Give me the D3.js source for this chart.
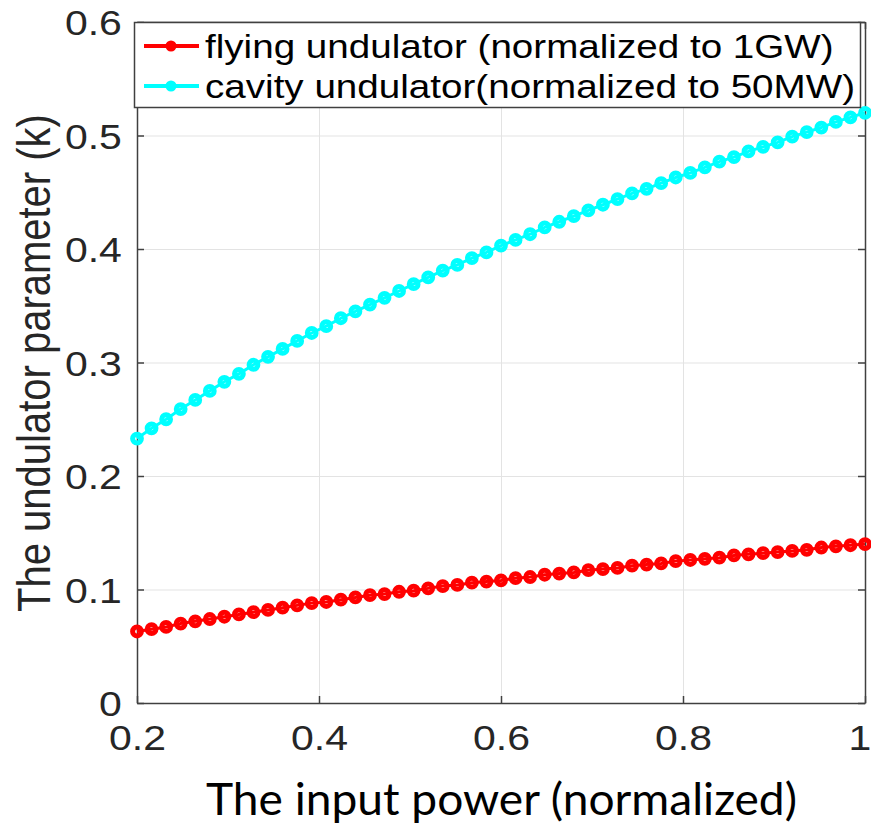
<!DOCTYPE html>
<html>
<head>
    <meta charset="utf-8">
    <title>Undulator parameter vs input power</title>
    <script src="https://d3js.org/d3.v7.min.js"></script>
    <style>
        body { margin: 0; background: #fff; }
        svg { display: block; }
    </style>
</head>
<body>
<svg id="chart" width="871" height="828"></svg>

<script>
    // input power (normalized), 51 samples
    var power = [0.2, 0.216, 0.232, 0.248, 0.264, 0.28, 0.296, 0.312, 0.328, 0.344,
        0.36, 0.376, 0.392, 0.408, 0.424, 0.44, 0.456, 0.472, 0.488, 0.504,
        0.52, 0.536, 0.552, 0.568, 0.584, 0.6, 0.616, 0.632, 0.648, 0.664,
        0.68, 0.696, 0.712, 0.728, 0.744, 0.76, 0.776, 0.792, 0.808, 0.824,
        0.84, 0.856, 0.872, 0.888, 0.904, 0.92, 0.936, 0.952, 0.968, 0.984, 1.0];

    var flyingK = [0.063, 0.065, 0.067, 0.070, 0.072, 0.074, 0.076, 0.078, 0.080, 0.082,
        0.084, 0.086, 0.088, 0.089, 0.091, 0.093, 0.095, 0.096, 0.098, 0.099,
        0.101, 0.103, 0.104, 0.106, 0.107, 0.108, 0.110, 0.111, 0.113, 0.114,
        0.115, 0.117, 0.118, 0.119, 0.121, 0.122, 0.123, 0.125, 0.126, 0.127,
        0.128, 0.130, 0.131, 0.132, 0.133, 0.134, 0.135, 0.137, 0.138, 0.139, 0.140];

    var cavityK = [0.233, 0.242, 0.250, 0.259, 0.267, 0.275, 0.283, 0.290, 0.298, 0.305,
        0.312, 0.319, 0.326, 0.332, 0.339, 0.345, 0.351, 0.357, 0.363, 0.369,
        0.375, 0.381, 0.386, 0.392, 0.397, 0.403, 0.408, 0.413, 0.419, 0.424,
        0.429, 0.434, 0.439, 0.444, 0.449, 0.453, 0.458, 0.463, 0.467, 0.472,
        0.477, 0.481, 0.486, 0.490, 0.494, 0.499, 0.503, 0.507, 0.512, 0.516, 0.520];

    var seriesNames = ["flying undulator (normalized to 1GW)", "cavity undulator(normalized to 50MW)"];
    var seriesColors = ["#ff0000", "#00ffff"];

    var xTicks = [0.2, 0.4, 0.6, 0.8, 1];
    var xTickLabels = ["0.2", "0.4", "0.6", "0.8", "1"];
    var yTicks = [0, 0.1, 0.2, 0.3, 0.4, 0.5, 0.6];
    var yTickLabels = ["0", "0.1", "0.2", "0.3", "0.4", "0.5", "0.6"];

    var svg = d3.select("#chart");
    var plotLeft = 137, plotRight = 865, plotTop = 22, plotBottom = 703;
    var stretch = 1.17;   // the original image is widened a bit
    var axisColor = "#404040";
    var tickFont = "'Liberation Sans', Arial, Helvetica, sans-serif";

    var x = d3.scaleLinear().domain([0.2, 1]).range([plotLeft, plotRight]);
    var y = d3.scaleLinear().domain([0, 0.6]).range([plotBottom, plotTop]);

    // grid
    svg.append("g")
        .attr("transform", "translate(0," + plotBottom + ")")
        .call(d3.axisBottom(x).tickValues(xTicks).tickSize(-(plotBottom - plotTop)).tickFormat(""))
        .call(function(g) {
            g.select(".domain").remove();
            g.selectAll("line").attr("stroke", "#e3e3e3").attr("stroke-width", 1);
        });
    svg.append("g")
        .attr("transform", "translate(" + plotLeft + ",0)")
        .call(d3.axisLeft(y).tickValues(yTicks).tickSize(-(plotRight - plotLeft)).tickFormat(""))
        .call(function(g) {
            g.select(".domain").remove();
            g.selectAll("line").attr("stroke", "#e3e3e3").attr("stroke-width", 1);
        });

    // axes with inward ticks
    function styleAxis(g) {
        g.select(".domain").attr("stroke", axisColor).attr("stroke-width", 1.5);
        g.selectAll(".tick line").attr("stroke", axisColor).attr("stroke-width", 1.5);
        g.selectAll("text")
            .attr("fill", "#262626")
            .style("font-family", tickFont)
            .style("font-size", "35px");
    }

    svg.append("g")
        .attr("transform", "translate(0," + plotBottom + ")")
        .call(d3.axisBottom(x).tickValues(xTicks).tickSizeInner(-7).tickSizeOuter(0)
            .tickPadding(0).tickFormat(function(d, i) { return xTickLabels[i]; }))
        .call(styleAxis)
        .call(function(g) {
            g.selectAll("text").attr("y", 47).attr("dy", null)
                .attr("transform", "scale(" + stretch + ",1)");
            // last label sits against the right edge, as in the original
            g.selectAll("text").filter(function(d) { return d === 1; })
                .attr("text-anchor", "end").attr("x", 5);
        });

    svg.append("g")
        .attr("transform", "translate(" + plotLeft + ",0)")
        .call(d3.axisLeft(y).tickValues(yTicks).tickSizeInner(-7).tickSizeOuter(0)
            .tickPadding(0).tickFormat(function(d, i) { return yTickLabels[i]; }))
        .call(styleAxis)
        .call(function(g) {
            g.selectAll("text").attr("x", -13).attr("dy", "0.36em")
                .attr("transform", "scale(" + stretch + ",1)");
        });

    svg.append("g")
        .attr("transform", "translate(" + plotRight + ",0)")
        .call(d3.axisRight(y).tickValues(yTicks).tickSizeInner(-7).tickSizeOuter(0).tickFormat(""))
        .call(styleAxis);

    svg.append("g")
        .attr("transform", "translate(0," + plotTop + ")")
        .call(d3.axisTop(x).tickValues(xTicks).tickSizeInner(-7).tickSizeOuter(0).tickFormat(""))
        .call(styleAxis);

    // series
    var allSeries = [flyingK, cavityK];
    var line = d3.line()
        .x(function(d, i) { return x(power[i]); })
        .y(function(d) { return y(d); });

    allSeries.forEach(function(values, s) {
        svg.append("path")
            .datum(values)
            .attr("d", line)
            .attr("fill", "none")
            .attr("stroke", seriesColors[s])
            .attr("stroke-width", 3);

        svg.append("g")
            .selectAll("circle")
            .data(values)
            .enter().append("circle")
            .attr("cx", function(d, i) { return x(power[i]); })
            .attr("cy", function(d) { return y(d); })
            .attr("r", 4.4)
            .attr("fill", "none")
            .attr("stroke", seriesColors[s])
            .attr("stroke-width", 5);
    });

    // legend
    var legend = svg.append("g");
    legend.append("rect")
        .attr("x", 134.5).attr("y", 22.5)
        .attr("width", 726).attr("height", 85)
        .attr("fill", "#fff")
        .attr("stroke", axisColor)
        .attr("stroke-width", 1.5);

    var rowY = [46, 86];
    seriesNames.forEach(function(name, s) {
        legend.append("line")
            .attr("x1", 144).attr("x2", 199)
            .attr("y1", rowY[s]).attr("y2", rowY[s])
            .attr("stroke", seriesColors[s])
            .attr("stroke-width", 4);
        legend.append("circle")
            .attr("cx", 171).attr("cy", rowY[s])
            .attr("r", 3.5)
            .attr("fill", seriesColors[s])
            .attr("stroke", seriesColors[s])
            .attr("stroke-width", 4);
        legend.append("text")
            .attr("transform", "translate(205," + rowY[s] + ") scale(" + stretch + ",1)")
            .attr("dy", "0.36em")
            .attr("fill", "#000")
            .style("font-family", tickFont)
            .style("font-size", "33px")
            .text(name);
    });

    // axis titles
    svg.append("text")
        .attr("transform", "translate(50,363) scale(" + stretch + ",1) rotate(-90)")
        .attr("text-anchor", "middle")
        .attr("fill", "#262626")
        .style("font-family", tickFont)
        .style("font-size", "40px")
        .text("The undulator parameter (k)");

    svg.append("text")
        .attr("x", 206).attr("y", 815)
        .attr("textLength", 591)
        .attr("lengthAdjust", "spacingAndGlyphs")
        .attr("fill", "#000")
        .style("font-family", "Lato, 'Open Sans', sans-serif")
        .style("font-size", "44px")
        .text("The input power (normalized)");
</script>
</body>
</html>
